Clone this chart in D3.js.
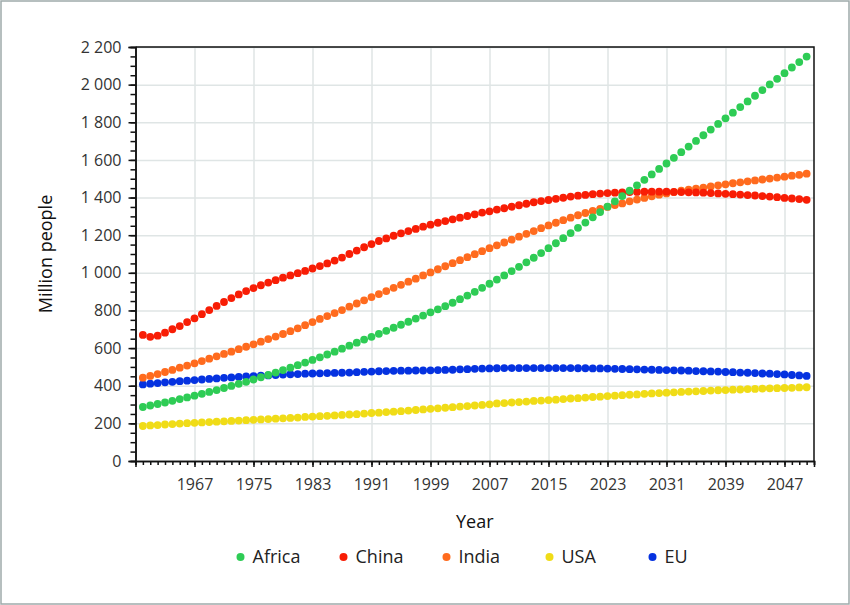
<!DOCTYPE html>
<html>
	<head>
		<title>Population 1960-2050</title>

		<!--libs-->
		<script src="https://d3js.org/d3.v7.min.js"></script>

		<!--css-->
		<style>
			body {
				margin: 0;
				background: #fff;
			}

			svg text {
				font-family: "Open Sans", sans-serif;
			}

			.tick-label {
				font-size: 16px;
				fill: #333;
			}

			.axis-title {
				font-size: 18px;
				fill: #111;
			}

			.legend text {
				font-size: 18px;
				fill: #222;
			}
		</style>
		<!--css-->
	</head>
	<body>

		<div class="chart"></div>

		<!--js-->
		<script>
			// one value per year, 1960 .. 2050
			var years = d3.range(1960, 2051);

			var africa = [
				287, 295, 303, 311, 320, 329, 338, 347, 357, 367,
				377, 388, 399, 410, 421, 433, 445, 457, 470, 483,
				496, 509, 523, 537, 551, 566, 581, 597, 613, 629,
				645, 660, 676, 692, 708, 724, 740, 757, 773, 790,
				806, 823, 841, 860, 879, 899, 920, 942, 964, 986,
				1009, 1032, 1056, 1080, 1105, 1131, 1157, 1184, 1211, 1239,
				1267, 1295, 1323, 1352, 1380, 1408, 1436, 1465, 1494, 1523,
				1552, 1581, 1611, 1641, 1671, 1701, 1731, 1761, 1791, 1821,
				1851, 1881, 1911, 1941, 1971, 2001, 2031, 2061, 2091, 2120,
				2149
			];

			var china = [
				670, 660, 666, 682, 700, 717, 738, 758, 780, 802,
				824, 845, 866, 885, 903, 919, 934, 948, 961, 974,
				986, 998, 1010, 1023, 1036, 1050, 1065, 1081, 1100, 1118,
				1136, 1153, 1169, 1183, 1197, 1210, 1222, 1233, 1245, 1256,
				1266, 1275, 1284, 1293, 1302, 1311, 1320, 1327, 1336, 1343,
				1351, 1359, 1367, 1375, 1381, 1387, 1393, 1399, 1405, 1410,
				1414, 1418, 1421, 1424, 1426, 1428, 1429, 1430, 1431, 1431,
				1431, 1431, 1430, 1429, 1428, 1427, 1426, 1424, 1422, 1420,
				1418, 1416, 1413, 1411, 1408, 1405, 1402, 1398, 1395, 1392,
				1388
			];

			var india = [
				443, 452, 462, 473, 484, 496, 507, 519, 531, 544,
				556, 569, 581, 594, 607, 620, 634, 648, 661, 675,
				690, 705, 722, 738, 755, 770, 786, 802, 820, 837,
				854, 871, 887, 903, 920, 936, 953, 969, 986, 1002,
				1019, 1035, 1051, 1067, 1083, 1099, 1115, 1131, 1146, 1161,
				1176, 1192, 1207, 1222, 1237, 1252, 1266, 1280, 1293, 1306,
				1318, 1329, 1340, 1350, 1360, 1369, 1380, 1389, 1398, 1407,
				1415, 1422, 1429, 1436, 1442, 1447, 1453, 1459, 1465, 1470,
				1476, 1481, 1486, 1491, 1496, 1501, 1506, 1511, 1516, 1521,
				1527
			];

			var usa = [
				186, 189, 191, 194, 196, 199, 201, 203, 205, 207,
				209, 211, 213, 215, 217, 219, 221, 223, 225, 227,
				229, 231, 234, 236, 238, 240, 242, 245, 247, 249,
				252, 255, 257, 260, 262, 265, 268, 271, 274, 277,
				280, 283, 286, 289, 292, 295, 298, 301, 306, 308,
				311, 313, 316, 319, 321, 324, 326, 329, 332, 334,
				337, 340, 342, 345, 347, 350, 352, 354, 357, 359,
				361, 363, 365, 367, 369, 370, 372, 374, 376, 377,
				379, 380, 382, 383, 385, 386, 387, 388, 389, 391,
				392
			];

			var eu = [
				407, 411, 414, 418, 421, 424, 427, 430, 433, 436,
				439, 442, 444, 447, 449, 451, 453, 455, 457, 459,
				461, 462, 464, 465, 466, 467, 468, 469, 470, 472,
				474, 475, 477, 478, 479, 480, 480, 481, 481, 482,
				483, 484, 485, 487, 488, 490, 491, 492, 493, 494,
				494, 494, 494, 494, 494, 494, 494, 494, 494, 493,
				493, 492, 492, 491, 490, 489, 488, 487, 486, 485,
				484, 483, 482, 481, 480, 478, 477, 476, 475, 473,
				472, 470, 469, 467, 465, 464, 462, 460, 457, 455,
				452
			];

			var seriesNames = ["Africa", "China", "India", "USA", "EU"];
			var seriesValues = [africa, china, india, usa, eu];
			var xTickLabels = d3.range(1967, 2048, 8);
			var yTickLabels = d3.range(0, 2201, 200);

			var colors = ["#2ecc55", "#f81d05", "#ff6b1e", "#f0dc17", "#0532e0"];

			var width = 850,
				height = 605;

			var margin = {top: 47, right: 36, bottom: 144, left: 135.5};

			var x = d3.scaleLinear()
				.domain([1959, 2051])
				.range([margin.left, width - margin.right]);

			var y = d3.scaleLinear()
				.domain([0, 2200])
				.range([height - margin.bottom, margin.top]);

			var locale = d3.formatLocale({decimal: ",", thousands: " ", grouping: [3], currency: ["", ""]});
			var fmt = locale.format(",");

			var svg = d3.select(".chart")
				.append("svg")
				.attr("width", width)
				.attr("height", height);

			// outer frame
			svg.append("rect")
				.attr("x", 1).attr("y", 1)
				.attr("width", width - 2).attr("height", height - 2)
				.attr("fill", "#fff")
				.attr("stroke", "#9eaaaa")
				.attr("stroke-width", 1.5);

			//__grid
			var grid = svg.append("g").attr("class", "grid");

			grid.append("g")
				.attr("transform", "translate(" + x.range()[0] + ",0)")
				.call(d3.axisLeft(y).tickValues(yTickLabels).tickSize(-(x.range()[1] - x.range()[0])).tickFormat(""))
				.call(function(g) { g.select(".domain").remove(); });

			grid.append("g")
				.attr("transform", "translate(0," + y.range()[0] + ")")
				.call(d3.axisBottom(x).tickValues(xTickLabels).tickSize(-(y.range()[0] - y.range()[1])).tickFormat(""))
				.call(function(g) { g.select(".domain").remove(); });

			grid.selectAll("line")
				.attr("stroke", "#dfe5e5")
				.attr("stroke-width", 1.5);
			//__grid

			//__axes
			var axes = svg.append("g").attr("class", "axes");

			// minor ticks
			axes.append("g")
				.attr("transform", "translate(" + x.range()[0] + ",0)")
				.call(d3.axisLeft(y).tickValues(d3.range(0, 2201, 50)).tickSize(5).tickFormat(""));

			axes.append("g")
				.attr("transform", "translate(0," + y.range()[0] + ")")
				.call(d3.axisBottom(x).tickValues(d3.range(1959, 2052)).tickSize(4).tickFormat(""));

			// major ticks + labels
			var yAxis = axes.append("g")
				.attr("transform", "translate(" + x.range()[0] + ",0)")
				.call(d3.axisLeft(y).tickValues(yTickLabels).tickSize(7).tickPadding(7).tickFormat(fmt));

			var xAxis = axes.append("g")
				.attr("transform", "translate(0," + y.range()[0] + ")")
				.call(d3.axisBottom(x).tickValues(xTickLabels).tickSize(6).tickPadding(12).tickFormat(d3.format("d")));

			axes.selectAll("text")
				.attr("class", "tick-label")
				.attr("font-family", null)
				.attr("font-size", null)
				.attr("fill", null);

			axes.selectAll("line, path")
				.attr("stroke", "#111")
				.attr("stroke-width", 1.5);

			// top and right border of plot
			svg.append("path")
				.attr("fill", "none")
				.attr("stroke", "#111")
				.attr("stroke-width", 1.5)
				.attr("d", "M" + x.range()[0] + "," + y.range()[1] + "H" + x.range()[1] + "V" + y.range()[0]);
			//__axes

			//__titles
			svg.append("text")
				.attr("class", "axis-title")
				.attr("text-anchor", "middle")
				.attr("transform", "translate(52," + (y.range()[0] + y.range()[1]) / 2 + ") rotate(-90)")
				.text("Million people");

			svg.append("text")
				.attr("class", "axis-title")
				.attr("text-anchor", "middle")
				.attr("x", (x.range()[0] + x.range()[1]) / 2)
				.attr("y", 528)
				.text("Year");
			//__titles

			//__dots (drawn last-to-first so Africa sits on top)
			var dots = svg.append("g").attr("class", "dots");

			d3.range(seriesNames.length - 1, -1, -1).forEach(function(k) {
				dots.append("g")
					.attr("fill", colors[k])
					.selectAll("circle")
					.data(seriesValues[k])
					.enter().append("circle")
					.attr("cx", function(d, i) { return x(years[i]); })
					.attr("cy", function(d) { return y(d); })
					.attr("r", 3.9);
			});
			//__dots

			//__legend
			var legend = svg.append("g").attr("class", "legend");

			var item = legend.selectAll("g")
				.data(seriesNames)
				.enter().append("g")
				.attr("transform", function(d, i) { return "translate(" + (240.5 + i * 103) + ",557)"; });

			item.append("circle")
				.attr("r", 4)
				.attr("fill", function(d, i) { return colors[i]; });

			item.append("text")
				.attr("x", 12)
				.attr("dy", "0.35em")
				.text(function(d) { return d; });
			//__legend
		</script>
		<!--js-->

	</body>
</html>
